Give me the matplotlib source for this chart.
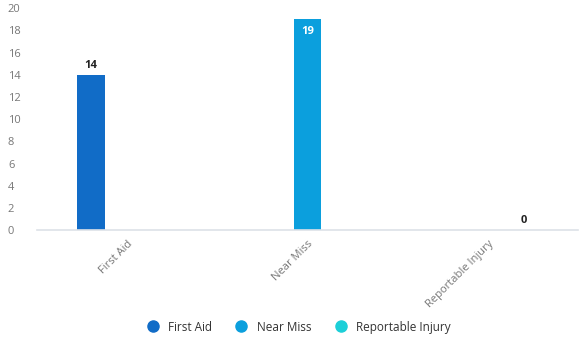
import numpy as np
import matplotlib.pyplot as plt

plt.rcParams['font.family'] = ['Open Sans', 'DejaVu Sans']

categories = ['First Aid', 'Near Miss', 'Reportable Injury']
series = ['First Aid', 'Near Miss', 'Reportable Injury']
values = [[14, None, None],
          [None, 19, None],
          [None, None, 0]]
colors = ['#116cc7', '#0b9fdd', '#1ccfd8']

fig = plt.figure(figsize=(5.88, 3.54), dpi=100)
ax = fig.add_axes([0.063, 0.350, 0.920, 0.627])

x = np.arange(len(categories))
width = 0.155
offsets = [-0.2, 0, 0.2]

for i, name in enumerate(series):
    for j, v in enumerate(values[i]):
        if v is None:
            continue
        xpos = x[j] + offsets[i]
        ax.bar(xpos, v, width=width, color=colors[i])
        # label inside the bar when it reaches the top
        if v >= 18:
            ax.text(xpos, v - 0.6, str(v), ha='center', va='top', color='white',
                    fontsize=8, fontweight='bold')
        else:
            ax.text(xpos, v + 0.35, str(v), ha='center', va='bottom', color='#222222',
                    fontsize=8, fontweight='bold')

ax.set_xlim(-0.5, 2.5)
ax.set_ylim(0, 20)
ax.set_yticks(range(0, 21, 2))
ax.set_xticks(x)
ax.set_xticklabels(categories, rotation=45, ha='right', rotation_mode='anchor')
ax.tick_params(axis='both', length=0, labelsize=8, colors='#777777')
ax.tick_params(axis='x', pad=6)
ax.tick_params(axis='y', pad=21)
for lbl in ax.get_yticklabels():
    lbl.set_horizontalalignment('left')

for s in ['top', 'right', 'left']:
    ax.spines[s].set_visible(False)
ax.spines['bottom'].set_color('#dde1e8')
ax.spines['bottom'].set_linewidth(1.2)

handles = [plt.Line2D([], [], marker='o', linestyle='', markersize=8, color=c) for c in colors]
fig.legend(handles, series, loc='center', bbox_to_anchor=(0.503, 0.076), ncol=3,
           frameon=False, fontsize=8.5, handletextpad=0.3, columnspacing=1.5,
           labelcolor='#333333')

plt.savefig('out.png', dpi=100)
